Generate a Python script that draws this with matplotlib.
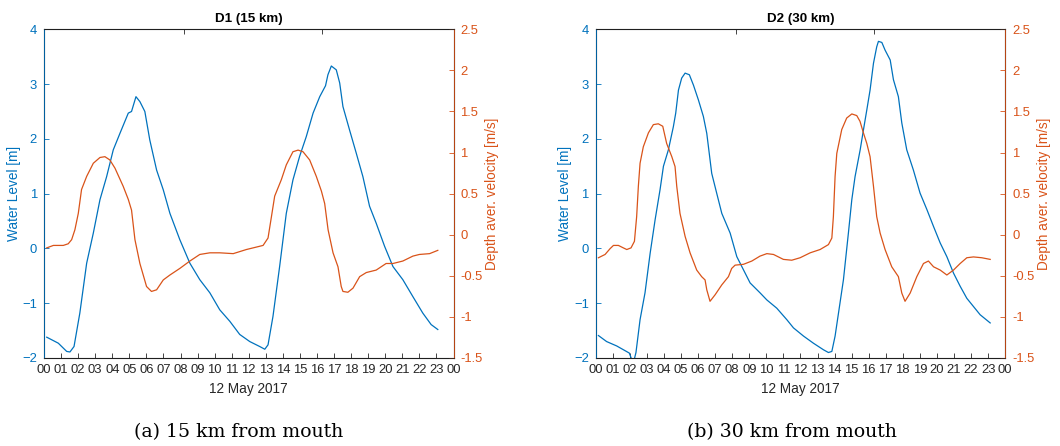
import numpy as np
import matplotlib
matplotlib.use('Agg')
import matplotlib.pyplot as plt

plt.rcParams['font.family'] = ['Liberation Sans', 'DejaVu Sans']

# hours after midnight, 12 May 2017
d1_wl_t = [0.16, 0.84, 1.33, 1.52, 1.76, 2.1, 2.5, 2.89, 3.28, 3.67, 4.06, 4.45, 4.94,
           5.13, 5.39, 5.62, 5.91, 6.2, 6.6, 6.99, 7.38, 7.96, 8.55, 9.13, 9.72, 10.3,
           10.89, 11.47, 12.06, 12.64, 12.94, 13.13, 13.42, 13.81, 14.2, 14.59, 14.98,
           15.37, 15.77, 16.16, 16.5, 16.64, 16.84, 17.13, 17.33, 17.52, 17.91, 18.3,
           18.69, 19.08, 19.47, 19.96, 20.45, 21.03, 21.62, 22.2, 22.69, 23.08]
d1_wl = [-1.62, -1.73, -1.88, -1.89, -1.79, -1.18, -0.27, 0.28, 0.89, 1.31, 1.80, 2.10,
         2.47, 2.50, 2.77, 2.68, 2.50, 1.98, 1.43, 1.07, 0.64, 0.16, -0.27, -0.57, -0.81,
         -1.12, -1.33, -1.57, -1.70, -1.79, -1.84, -1.76, -1.24, -0.33, 0.64, 1.25, 1.68,
         2.04, 2.47, 2.77, 2.97, 3.17, 3.33, 3.26, 3.02, 2.59, 2.16, 1.74, 1.31, 0.77,
         0.46, 0.04, -0.33, -0.57, -0.88, -1.18, -1.39, -1.48]

d1_vel_t = [0.16, 0.55, 0.84, 1.13, 1.42, 1.62, 1.81, 2.01, 2.2, 2.5, 2.89, 3.28, 3.57,
            3.86, 4.16, 4.64, 4.94, 5.13, 5.33, 5.62, 6.01, 6.3, 6.6, 6.99, 7.38, 7.96,
            8.55, 9.13, 9.72, 10.3, 11.09, 11.86, 12.45, 12.84, 13.13, 13.33, 13.52,
            13.91, 14.2, 14.59, 14.89, 15.18, 15.57, 15.96, 16.26, 16.45, 16.65, 16.94,
            17.23, 17.42, 17.52, 17.81, 18.11, 18.5, 18.89, 19.47, 20.05, 20.45, 21.03,
            21.62, 22.0, 22.6, 23.08]
d1_vel = [-0.16, -0.13, -0.13, -0.13, -0.11, -0.06, 0.06, 0.26, 0.55, 0.71, 0.87, 0.94,
          0.95, 0.91, 0.81, 0.59, 0.43, 0.30, -0.06, -0.35, -0.63, -0.69, -0.67, -0.55,
          -0.49, -0.41, -0.32, -0.24, -0.22, -0.22, -0.23, -0.18, -0.15, -0.13, -0.04,
          0.22, 0.47, 0.67, 0.85, 1.01, 1.03, 1.01, 0.91, 0.71, 0.53, 0.38, 0.06, -0.22,
          -0.39, -0.63, -0.69, -0.70, -0.65, -0.51, -0.46, -0.43, -0.35, -0.35, -0.32,
          -0.26, -0.24, -0.23, -0.19]

d2_wl_t = [0.16, 0.64, 1.23, 1.97, 2.2, 2.36, 2.6, 2.89, 3.19, 3.48, 3.77, 3.97, 4.26,
           4.55, 4.69, 4.85, 5.04, 5.24, 5.49, 5.73, 6.02, 6.31, 6.51, 6.8, 7.09, 7.39,
           7.88, 8.27, 8.66, 9.05, 9.63, 10.03, 10.61, 11.2, 11.59, 12.18, 12.76, 13.35,
           13.64, 13.84, 14.03, 14.23, 14.52, 14.81, 15.01, 15.2, 15.5, 15.69, 15.89,
           16.08, 16.28, 16.47, 16.57, 16.77, 16.96, 17.26, 17.45, 17.74, 17.94, 18.23,
           18.62, 19.01, 19.41, 19.8, 20.19, 20.58, 20.97, 21.36, 21.75, 22.14, 22.53,
           23.12]
d2_wl = [-1.59, -1.70, -1.78, -1.91, -2.10, -1.90, -1.30, -0.81, -0.09, 0.52, 1.07, 1.50,
         1.80, 2.22, 2.47, 2.89, 3.11, 3.20, 3.17, 2.98, 2.71, 2.41, 2.10, 1.37, 1.01,
         0.64, 0.28, -0.15, -0.39, -0.63, -0.81, -0.94, -1.09, -1.30, -1.45, -1.60, -1.73,
         -1.85, -1.90, -1.88, -1.60, -1.18, -0.57, 0.28, 0.89, 1.31, 1.80, 2.16, 2.53,
         2.89, 3.38, 3.68, 3.78, 3.76, 3.62, 3.44, 3.08, 2.77, 2.29, 1.80, 1.43, 1.01,
         0.71, 0.40, 0.10, -0.15, -0.45, -0.69, -0.91, -1.06, -1.21, -1.36]

d2_vel_t = [0.16, 0.55, 0.84, 1.04, 1.33, 1.62, 1.82, 2.07, 2.27, 2.4, 2.5, 2.6, 2.79,
            3.09, 3.38, 3.67, 3.93, 4.16, 4.46, 4.65, 4.75, 4.94, 5.24, 5.53, 5.92, 6.21,
            6.41, 6.51, 6.7, 7.0, 7.39, 7.78, 7.97, 8.17, 8.66, 9.15, 9.63, 10.03, 10.42,
            11.0, 11.49, 11.98, 12.57, 13.15, 13.64, 13.84, 13.93, 14.03, 14.13, 14.42,
            14.71, 15.01, 15.3, 15.49, 15.69, 15.89, 16.08, 16.28, 16.47, 16.67, 16.96,
            17.35, 17.74, 17.94, 18.13, 18.43, 18.82, 19.21, 19.5, 19.8, 20.19, 20.58,
            20.97, 21.36, 21.75, 22.14, 22.63, 23.12]
d2_vel = [-0.28, -0.24, -0.17, -0.13, -0.13, -0.16, -0.18, -0.16, -0.08, 0.22, 0.59, 0.87,
          1.07, 1.24, 1.34, 1.35, 1.32, 1.11, 0.95, 0.83, 0.59, 0.26, -0.02, -0.22, -0.43,
          -0.51, -0.55, -0.67, -0.81, -0.73, -0.61, -0.51, -0.41, -0.37, -0.36, -0.32,
          -0.26, -0.23, -0.24, -0.30, -0.31, -0.28, -0.22, -0.18, -0.12, -0.04, 0.22, 0.71,
          0.99, 1.28, 1.42, 1.47, 1.45, 1.38, 1.24, 1.11, 0.95, 0.59, 0.22, 0.02, -0.18,
          -0.39, -0.51, -0.71, -0.81, -0.71, -0.51, -0.35, -0.32, -0.39, -0.43, -0.49,
          -0.43, -0.35, -0.28, -0.27, -0.28, -0.30]

panels = [
    ('D1 (15 km)', '(a) 15 km from mouth', d1_wl_t, d1_wl, d1_vel_t, d1_vel),
    ('D2 (30 km)', '(b) 30 km from mouth', d2_wl_t, d2_wl, d2_vel_t, d2_vel),
]

hours = np.arange(25)
hour_labels = ['%02d' % (h % 24) for h in hours]

blue = '#0072BD'
orange = '#D95319'
dark = '#262626'

fig = plt.figure(figsize=(10.6, 4.46), dpi=100)
W, H = 1060.0, 446.0
left_px = [44, 595.7]
caption_x = [239, 792]

for i, (title, caption, wt, wl, vt, vel) in enumerate(panels):
    ax = fig.add_axes([left_px[i] / W, (H - 358) / H, 409.5 / W, 328.7 / H])
    ax.plot(wt, wl, color=blue, lw=0.9)
    ax.set_xlim(0, 24)
    ax.set_ylim(-2, 4)
    ax.set_xticks(hours)
    ax.set_xticklabels(hour_labels)
    ax.set_yticks(range(-2, 5))
    ax.tick_params(axis='x', direction='in', length=3.5, width=0.6, colors=dark,
                   labelsize=9.4, pad=4)
    ax.tick_params(axis='y', direction='in', length=3.5, width=0.6, colors=blue,
                   labelsize=9.4, pad=5)
    ax.set_ylabel('Water Level [m]', color=blue, fontsize=9.8, labelpad=1)
    ax.set_xlabel('12 May 2017', color=dark, fontsize=9.8, labelpad=5)
    ax.set_title(title, fontsize=9.6, fontweight='bold', pad=5)

    ax2 = ax.twinx()
    ax2.plot(vt, vel, color=orange, lw=0.9)
    ax2.set_ylim(-1.5, 2.5)
    ax2.set_yticks(np.arange(-1.5, 2.51, 0.5))
    ax2.set_yticklabels(['%g' % v for v in np.arange(-1.5, 2.51, 0.5)])
    ax2.tick_params(axis='y', direction='in', length=3.5, width=0.6, colors=orange,
                    labelsize=9.4, pad=5)
    ax2.set_ylabel('Depth aver. velocity [m/s]', color=orange, fontsize=9.8, labelpad=2)

    # top ruler ticks
    top = ax.secondary_xaxis('top')
    top.set_xticks([8.2, 16.3])
    top.set_xticklabels([])
    top.tick_params(direction='in', length=3.5, width=0.6, colors=dark)

    for sp in ['top', 'bottom']:
        ax2.spines[sp].set_color(dark)
        ax2.spines[sp].set_linewidth(0.6)
    top.spines['top'].set_color(dark)
    top.spines['top'].set_linewidth(0.6)
    ax2.spines['left'].set_color(blue)
    ax2.spines['left'].set_linewidth(0.6)
    ax2.spines['right'].set_color(orange)
    ax2.spines['right'].set_linewidth(0.6)

    fig.text(caption_x[i] / W, 1 - 432 / H, caption, ha='center', va='center',
             family='DejaVu Serif', fontsize=13.6)

fig.savefig('out.png', dpi=100)
